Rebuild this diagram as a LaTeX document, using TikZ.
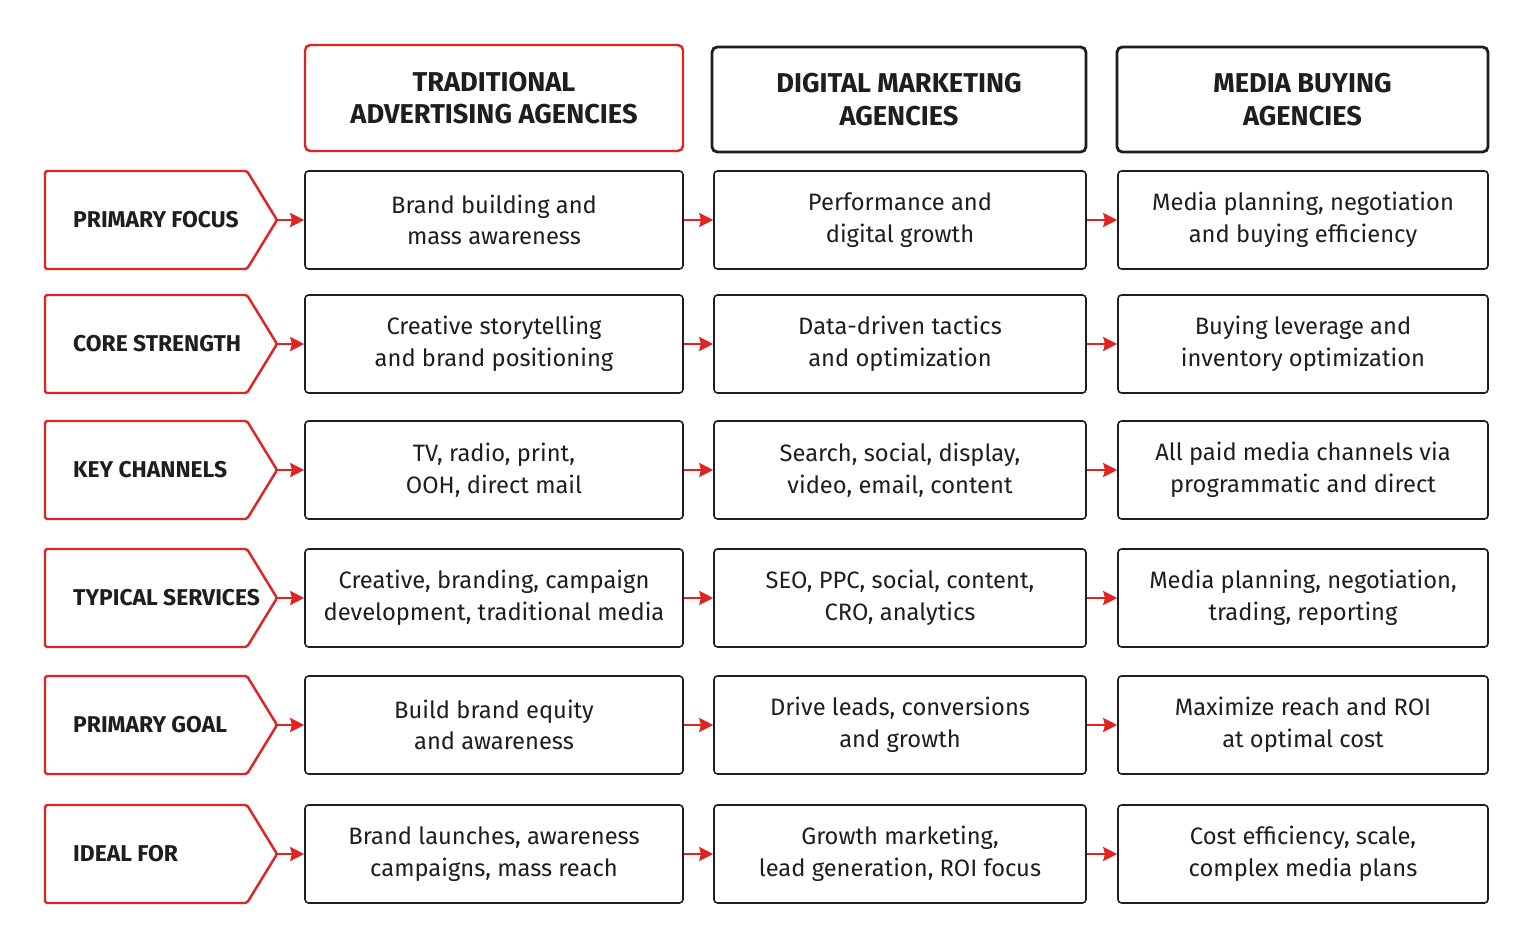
\documentclass[tikz,border=0pt]{standalone}
\usepackage{fontspec}
\setmainfont{Fira Sans}
\usetikzlibrary{arrows.meta}
\definecolor{myred}{RGB}{226,35,35}
\definecolor{ink}{RGB}{30,30,30}
\begin{document}
\begin{tikzpicture}[x=0.02cm,y=-0.02cm,
 cell/.style={draw=ink,line width=0.9pt,rounded corners=2pt,align=center,font=\fontsize{13.5}{18}\selectfont,text=ink,inner sep=0},
 head/.style={rounded corners=3pt,align=center,font=\fontsize{15.5}{18.5}\selectfont\bfseries,text=ink,inner sep=0},
 lab/.style={font=\fontsize{13}{15}\selectfont\bfseries,text=ink,anchor=west},
 arr/.style={draw=myred,line width=1.2pt,-{Stealth[length=8pt,width=8pt,inset=1pt]}}]
\useasboundingbox (0,0) rectangle (1534,952);
\fill[white] (0,0) rectangle (1534,952);
\node[head,draw=myred,line width=1.4pt,minimum width=378*0.02cm,minimum height=106*0.02cm] (h1) at (494,98) {TRADITIONAL\\ADVERTISING AGENCIES};
\node[head,draw=ink,line width=1.6pt,minimum width=374*0.02cm,minimum height=105*0.02cm] (h2) at (899,99.5) {DIGITAL MARKETING\\AGENCIES};
\node[head,draw=ink,line width=1.6pt,minimum width=371*0.02cm,minimum height=105*0.02cm] (h3) at (1302.5,99.5) {MEDIA BUYING\\AGENCIES};
\foreach \t/\name/\a/\b/\c [count=\i] in {
 171/PRIMARY FOCUS/{Brand building and\\mass awareness}/{Performance and\\digital growth}/{Media planning, negotiation\\and buying efficiency},
 295/CORE STRENGTH/{Creative storytelling\\and brand positioning}/{Data-driven tactics\\and optimization}/{Buying leverage and\\inventory optimization},
 421/KEY CHANNELS/{TV, radio, print,\\OOH, direct mail}/{Search, social, display,\\video, email, content}/{All paid media channels via\\programmatic and direct},
 549/TYPICAL SERVICES/{Creative, branding, campaign\\development, traditional media}/{SEO, PPC, social, content,\\CRO, analytics}/{Media planning, negotiation,\\trading, reporting},
 676/PRIMARY GOAL/{Build brand equity\\and awareness}/{Drive leads, conversions\\and growth}/{Maximize reach and ROI\\at optimal cost},
 805/IDEAL FOR/{Brand launches, awareness\\campaigns, mass reach}/{Growth marketing,\\lead generation, ROI focus}/{Cost efficiency, scale,\\complex media plans}}{
 \pgfmathsetmacro\m{\t+49}
 \pgfmathsetmacro\bt{\t+98}
 \draw[myred,line width=1.4pt,rounded corners=1pt] (45,\t) -- (247,\t) -- (277,\m) -- (247,\bt) -- (45,\bt) -- cycle;
 \coordinate (p\i) at (277,\m);
 \node[lab] (l\i) at (67,\m) {\name};
 \node[cell,minimum width=378*0.02cm,minimum height=98*0.02cm] (a\i) at (494,\m) {\a};
 \node[cell,minimum width=372*0.02cm,minimum height=98*0.02cm] (b\i) at (900,\m) {\b};
 \node[cell,minimum width=370*0.02cm,minimum height=98*0.02cm] (c\i) at (1303,\m) {\c};
 \draw[arr] (p\i) -- (a\i.west);
 \draw[arr] (a\i.east) -- (b\i.west);
 \draw[arr] (b\i.east) -- (c\i.west);
}
\end{tikzpicture}
\end{document}
